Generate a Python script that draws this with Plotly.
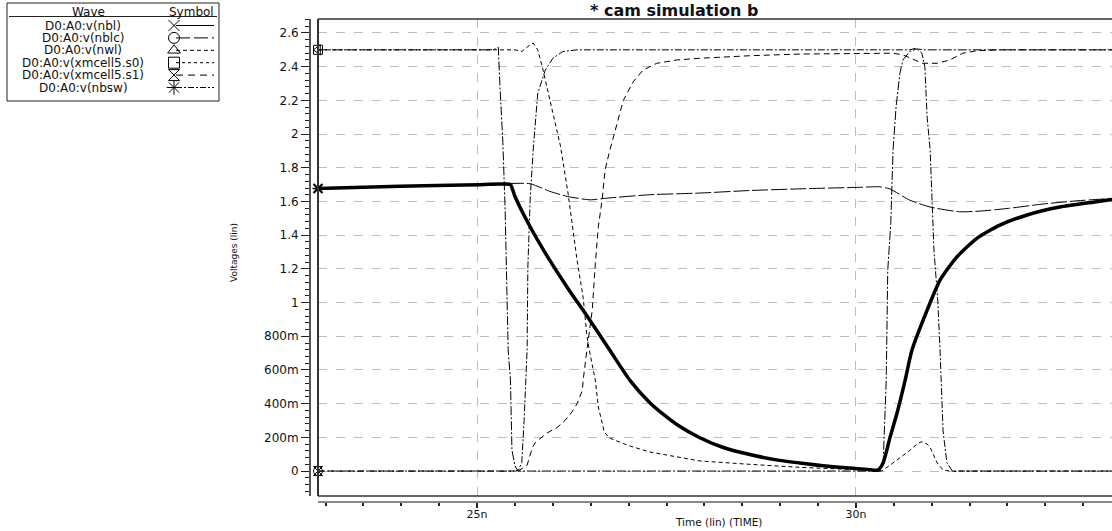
import plotly.graph_objects as go

W, H = 1112, 531

# ---------------- data (time in ns, voltage in V) ----------------
nbl_t = [22.9, 23.98, 24.64, 25.04, 25.30, 25.37, 25.44, 25.50, 25.70, 25.96, 26.19, 26.46, 26.75,
         27.02, 27.28, 27.46, 27.64, 27.94, 28.25, 28.60, 28.93, 29.26, 29.60, 29.92, 30.15, 30.29,
         30.36, 30.45, 30.54, 30.65, 30.74, 30.94, 31.11, 31.33, 31.60, 31.90, 32.26, 32.69, 33.13, 33.38]
nbl_v = [1.677, 1.69, 1.697, 1.70, 1.704, 1.704, 1.70, 1.63, 1.45, 1.25, 1.09, 0.914, 0.718,
         0.537, 0.406, 0.336, 0.275, 0.198, 0.14, 0.098, 0.068, 0.048, 0.03, 0.018, 0.01, 0.006,
         0.05, 0.20, 0.34, 0.54, 0.718, 0.955, 1.133, 1.27, 1.383, 1.46, 1.52, 1.567, 1.596, 1.612]

nblc_t = [22.9, 25.51, 25.55, 25.59, 25.62, 25.64, 25.66, 25.67, 25.70, 25.74, 25.77, 25.80, 25.90,
          26.00, 26.13, 26.32, 30.71, 30.80, 30.87, 30.91, 30.94, 30.98, 31.03, 31.08, 31.11, 31.13,
          31.15, 31.20, 31.28, 31.35, 33.38]
nblc_v = [0.0, 0.0, 0.01, 0.05, 0.30, 0.54, 0.72, 1.21, 1.61, 1.905, 2.10, 2.24, 2.38,
          2.45, 2.49, 2.50, 2.50, 2.51, 2.48, 2.40, 2.10, 1.905, 1.31, 1.015, 0.72, 0.42,
          0.24, 0.05, -0.005, 0.0, 0.0]

nwl_t = [22.9, 25.17, 25.24, 25.28, 25.30, 25.34, 25.37, 25.39, 25.41, 25.44, 25.46, 25.50, 25.54,
         30.32, 30.36, 30.40, 30.41, 30.42, 30.46, 30.49, 30.53, 30.58, 30.62, 30.71, 30.80, 30.91, 33.38]
nwl_v = [2.50, 2.50, 2.505, 2.515, 2.30, 1.95, 1.55, 1.21, 0.72, 0.54, 0.125, 0.03, 0.0,
         0.0, 0.05, 0.54, 0.88, 1.19, 1.47, 1.905, 2.16, 2.36, 2.44, 2.49, 2.505, 2.50, 2.50]

s0_t = [22.9, 25.50, 25.59, 25.67, 25.74, 25.80, 25.86, 25.96, 26.10, 26.20, 26.32, 26.40, 26.45,
        26.48, 26.56, 26.60, 26.68, 26.75, 26.98, 27.28, 27.72, 27.94, 28.60, 29.26, 29.92, 30.32,
        30.34, 30.45, 30.58, 30.71, 30.82, 30.87, 30.94, 30.98, 31.03, 31.07, 31.15, 31.24, 33.38]
s0_v = [2.50, 2.50, 2.49, 2.52, 2.54, 2.50, 2.40, 2.20, 1.93, 1.65, 1.25, 1.03, 0.80,
        0.72, 0.54, 0.38, 0.23, 0.196, 0.154, 0.113, 0.077, 0.06, 0.04, 0.022, 0.01, 0.003,
        0.0, 0.035, 0.078, 0.122, 0.165, 0.174, 0.16, 0.14, 0.09, 0.05, 0.006, 0.0, 0.0]

s1_t = [22.9, 25.54, 25.66, 25.73, 25.77, 25.92, 26.06, 26.16, 26.25, 26.32, 26.39, 26.40, 26.45,
        26.52, 26.56, 26.60, 26.65, 26.69, 26.75, 26.85, 26.93, 27.06, 27.19, 27.37, 27.64, 27.94,
        28.60, 29.26, 30.00, 30.49, 30.62, 30.88, 31.07, 31.24, 31.41, 31.60, 31.90, 33.38]
s1_v = [0.0, 0.0, 0.035, 0.14, 0.17, 0.225, 0.26, 0.30, 0.35, 0.40, 0.48, 0.54, 0.72,
        0.955, 1.23, 1.45, 1.61, 1.79, 1.90, 2.065, 2.20, 2.31, 2.38, 2.42, 2.44, 2.45,
        2.465, 2.475, 2.48, 2.48, 2.47, 2.42, 2.42, 2.44, 2.48, 2.495, 2.50, 2.50]

nbsw_t = [22.9, 23.98, 25.04, 25.30, 25.70, 25.96, 26.19, 26.49, 26.72, 27.28, 27.94, 28.60, 29.26,
          30.05, 30.32, 30.45, 30.71, 30.98, 31.37, 31.64, 32.03, 32.47, 32.92, 33.38]
nbsw_v = [1.677, 1.69, 1.70, 1.705, 1.705, 1.66, 1.63, 1.61, 1.62, 1.64, 1.65, 1.665, 1.675,
          1.684, 1.687, 1.674, 1.608, 1.567, 1.539, 1.543, 1.56, 1.585, 1.604, 1.618]

wave_names = ["D0:A0:v(nbl)", "D0:A0:v(nblc)", "D0:A0:v(nwl)",
              "D0:A0:v(xmcell5.s0)", "D0:A0:v(xmcell5.s1)", "D0:A0:v(nbsw)"]

x_tick_vals = [25, 30]
x_tick_text = ["25n", "30n"]
y_tick_vals = [0, 0.2, 0.4, 0.6, 0.8, 1.0, 1.2, 1.4, 1.6, 1.8, 2.0, 2.2, 2.4, 2.6]
y_tick_text = ["0", "200m", "400m", "600m", "800m", "1", "1.2", "1.4", "1.6", "1.8", "2", "2.2", "2.4", "2.6"]

title_text = "* cam simulation b"
x_title = "Time (lin) (TIME)"
y_title = "Voltages (lin)"

# ---------------- styles ----------------
series = [
    (nbl_t, nbl_v, dict(width=3.5, dash="solid", ldash="solid", sym="x-thin-open", msize=11, mlw=2, shape="spline")),
    (nblc_t, nblc_v, dict(width=1, dash="7px,2px,2px,2px", ldash="14px,4px", sym="circle-open", msize=11, mlw=1, shape="linear")),
    (nwl_t, nwl_v, dict(width=1, dash="9px,2px,2px,2px", ldash="4px,3px", sym="triangle-up-open", msize=11, mlw=1, shape="linear")),
    (s0_t, s0_v, dict(width=1, dash="4px,3px", ldash="3px,3px", sym="square-open", msize=11, mlw=1, shape="linear")),
    (s1_t, s1_v, dict(width=1, dash="6px,4px", ldash="7px,5px", sym="hourglass-open", msize=11, mlw=1, shape="linear")),
    (nbsw_t, nbsw_v, dict(width=1, dash="16px,3px", ldash="6px,2px,2px,2px", sym="asterisk-open", msize=12, mlw=1.5, shape="spline")),
]
edge_syms = ["x-thin-open", "circle-open", "triangle-left-open", "square-open", "hourglass-open", "asterisk-open"]

FONT = "DejaVu Sans"
INK = "#111111"

fig = go.Figure()

for (t, v, st) in series:
    fig.add_trace(go.Scatter(x=t, y=v, mode="lines",
                             line=dict(color="black", width=st["width"], dash=st["dash"],
                                       shape=st["shape"], smoothing=0.6),
                             showlegend=False, hoverinfo="skip"))

# start markers on the left frame
for (t, v, st), sym in zip(series, edge_syms):
    fig.add_trace(go.Scatter(x=[t[0]], y=[v[0]], mode="markers", cliponaxis=False,
                             marker=dict(symbol=sym, size=9, color="black",
                                         line=dict(color="black", width=st["mlw"])),
                             showlegend=False, hoverinfo="skip"))

# ---------------- legend box (aux axes in pixel-like units) ----------------
row_y = [25.5, 37.9, 50.3, 62.7, 75.1, 87.5]
for (t, v, st), ry in zip(series, row_y):
    fig.add_trace(go.Scatter(x=[176, 214], y=[ry, ry], mode="lines", xaxis="x2", yaxis="y2",
                             line=dict(color="black", width=1, dash=st["ldash"]),
                             showlegend=False, hoverinfo="skip"))
    fig.add_trace(go.Scatter(x=[174], y=[ry], mode="markers", xaxis="x2", yaxis="y2",
                             marker=dict(symbol=st["sym"], size=st["msize"], color="black",
                                         line=dict(color="black", width=1)),
                             showlegend=False, hoverinfo="skip", cliponaxis=False))

annotations = []
for name, ry in zip(wave_names, row_y):
    annotations.append(dict(x=83, y=ry, xref="x2", yref="y2", text=name, showarrow=False,
                            font=dict(family=FONT, size=12, color=INK), xanchor="center", yanchor="middle"))
annotations.append(dict(x=88, y=11.5, xref="x2", yref="y2", text="Wave", showarrow=False,
                        font=dict(family=FONT, size=12, color=INK), xanchor="center", yanchor="middle"))
annotations.append(dict(x=191, y=11.5, xref="x2", yref="y2", text="Symbol", showarrow=False,
                        font=dict(family=FONT, size=12, color=INK), xanchor="center", yanchor="middle"))

shapes = [
    dict(type="rect", xref="x2", yref="y2", x0=7, x1=219, y0=3, y1=101, line=dict(color="#222", width=1)),
    dict(type="line", xref="x2", yref="y2", x0=9, x1=217, y0=16.5, y1=16.5, line=dict(color="#222", width=1)),
]

# plot frame (left, top, bottom)
px = lambda p: p / W
py = lambda p: 1 - p / H
shapes += [
    dict(type="line", xref="paper", yref="paper", x0=px(318), x1=px(318), y0=py(19), y1=py(496),
         line=dict(color="#333", width=2)),
    dict(type="line", xref="paper", yref="paper", x0=px(318), x1=1, y0=py(19), y1=py(19),
         line=dict(color="#333", width=1.5)),
    dict(type="line", xref="paper", yref="paper", x0=px(318), x1=1, y0=py(496), y1=py(496),
         line=dict(color="#333", width=1.5)),
]

annotations += [
    dict(x=px(588), y=py(11), xref="paper", yref="paper", text="<b>" + title_text + "</b>", showarrow=False,
         xanchor="left", yanchor="middle", font=dict(family=FONT, size=16, color=INK)),
    dict(x=px(718), y=py(522), xref="paper", yref="paper", text=x_title, showarrow=False,
         xanchor="center", yanchor="middle", font=dict(family=FONT, size=10.5, color=INK)),
    dict(x=px(234), y=py(253), xref="paper", yref="paper", text=y_title, showarrow=False, textangle=-90,
         xanchor="center", yanchor="middle", font=dict(family=FONT, size=9, color=INK)),
]

fig.update_layout(
    width=W, height=H,
    margin=dict(l=0, r=0, t=0, b=0),
    paper_bgcolor="white", plot_bgcolor="white",
    showlegend=False,
    xaxis=dict(domain=[px(318), 1], range=[22.9, 33.38], anchor="free", position=1 - 502 / H,
               showline=True, linecolor="#8a8a8a", linewidth=2,
               ticks="outside", ticklen=5, tickwidth=1.5, tickcolor="#222",
               tickmode="array", tickvals=x_tick_vals, ticktext=x_tick_text,
               tickfont=dict(family=FONT, size=11, color=INK), ticklabelstandoff=-3,
               minor=dict(tickmode="linear", tick0=0, dtick=0.5, ticks="outside", ticklen=3,
                          tickcolor="#222", showgrid=False),
               showgrid=True, gridcolor="#bdbdbd", griddash="dash", gridwidth=1, zeroline=False),
    yaxis=dict(domain=[1 - 496 / H, 1 - 19 / H], range=[-0.148, 2.683], anchor="free", position=px(310),
               showline=True, linecolor="#555", linewidth=2,
               ticks="outside", ticklen=8, tickwidth=1.2, tickcolor="#222",
               tickmode="array", tickvals=y_tick_vals, ticktext=y_tick_text,
               tickfont=dict(family=FONT, size=12, color=INK),
               minor=dict(tickmode="linear", tick0=0, dtick=0.04, ticks="outside", ticklen=4,
                          tickcolor="#222", showgrid=False),
               showgrid=True, gridcolor="#bdbdbd", griddash="dash", gridwidth=1, zeroline=False),
    xaxis2=dict(domain=[0, px(250)], range=[0, 250], anchor="y2", visible=False, fixedrange=True),
    yaxis2=dict(domain=[py(110), 1], range=[110, 0], anchor="x2", visible=False, fixedrange=True),
    shapes=shapes,
    annotations=annotations,
)

fig.write_html("out.html", config={"displayModeBar": False},
               post_script="document.body.style.margin='0';document.body.style.overflow='hidden';")
